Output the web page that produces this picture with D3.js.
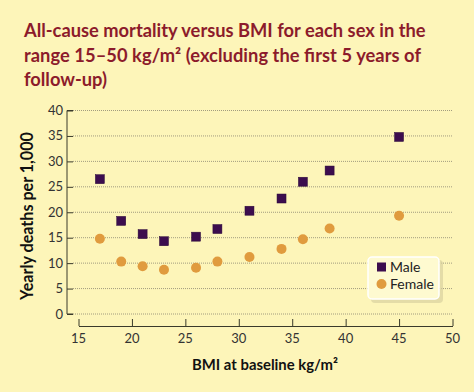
<!DOCTYPE html>
<html><head><meta charset="utf-8">
<script src="https://cdn.jsdelivr.net/npm/d3@7"></script>
<style>
html,body{margin:0;padding:0;background:#fdf5b9;}
svg{display:block;font-family:"Lato","Open Sans",sans-serif;}
</style></head>
<body><svg id="c" width="474" height="392"></svg>
<script>
const bmi = [17, 19, 21, 23, 26, 28, 31, 34, 36, 38.5, 45];
const male = [26.5, 18.3, 15.7, 14.3, 15.2, 16.7, 20.3, 22.7, 26.0, 28.2, 34.8];
const female = [14.8, 10.3, 9.4, 8.7, 9.1, 10.3, 11.2, 12.8, 14.7, 16.8, 19.3];
const xTicks = [15, 20, 25, 30, 35, 40, 45, 50];
const yTicks = [0, 5, 10, 15, 20, 25, 30, 35, 40];
const titleLines = ["All-cause mortality versus BMI for each sex in the",
  "range 15\u201350 kg/m\u00b2 (excluding the first 5 years of", "follow-up)"];
const seriesNames = ["Male", "Female"];

const svg = d3.select("#c");
const x = d3.scaleLinear().domain([15, 50]).range([78.5, 452.5]);
const y = d3.scaleLinear().domain([0, 40]).range([314, 110.5]);
const titleCol = "#8c1b2b", maleCol = "#3c0d4e", femCol = "#e09b3e", axCol = "#3a3a2a";

function fit(sel, target) {
  const fs = +sel.attr("font-size");
  const w = sel.node().getComputedTextLength();
  sel.attr("font-size", fs * target / w);
  return fs * target / w;
}

svg.append("rect").attr("width", 474).attr("height", 392).attr("fill", "#fdf5b9");

// title
const tg = svg.append("g").attr("font-weight", 700).attr("fill", titleCol);
const tl = titleLines.map((t, i) => tg.append("text").attr("x", 24).attr("y", 37 + i * 24.5).attr("font-size", 19).text(t));
const tfs = fit(tl[0], 402);
tl.forEach(s => s.attr("font-size", tfs));
tl[1].attr("textLength", 397).attr("lengthAdjust", "spacing");

// gridlines
svg.append("g").selectAll("line").data(yTicks).join("line")
  .attr("x1", 73).attr("x2", 452).attr("y1", d => y(d)).attr("y2", d => y(d))
  .attr("stroke", "#8a8570").attr("stroke-width", 0.8).attr("stroke-dasharray", "1,1");

// y axis
const yAx = svg.append("g").attr("transform", "translate(67,0)")
  .call(d3.axisRight(y).tickValues(yTicks).tickSize(6).tickFormat(""));
yAx.select(".domain").attr("d", `M6,${y(40)}H0V${y(0)}H6`).attr("stroke", axCol);
yAx.selectAll(".tick line").attr("stroke", axCol);
svg.append("g").selectAll("text").data(yTicks).join("text")
  .attr("x", 63).attr("y", d => y(d)).attr("dy", "0.35em").attr("text-anchor", "end")
  .attr("font-size", 13).attr("fill", "#333").text(d => d);

// x axis
const xAx = svg.append("g").attr("transform", "translate(0,326)")
  .call(d3.axisTop(x).tickValues(xTicks).tickSize(7).tickSizeOuter(0).tickFormat(""));
xAx.select(".domain").attr("stroke", axCol);
xAx.selectAll(".tick line").attr("stroke", axCol);
svg.append("g").selectAll("text").data(xTicks).join("text")
  .attr("x", d => x(d)).attr("y", 343).attr("text-anchor", "middle")
  .attr("font-size", 13).attr("fill", "#333").text(d => d);

// axis titles
const xt = svg.append("text").attr("x", 265).attr("y", 370).attr("text-anchor", "middle")
  .attr("font-weight", 700).attr("font-size", 15).attr("fill", "#111").text("BMI at baseline kg/m\u00b2");
fit(xt, 146);
const yt = svg.append("text").attr("transform", "translate(33,216) rotate(-90)").attr("text-anchor", "middle")
  .attr("font-weight", 700).attr("font-size", 15).attr("fill", "#111").text("Yearly deaths per 1,000");
fit(yt, 168);

// points
const pts = bmi.map((b, i) => ({b, m: male[i], f: female[i]}));
svg.append("g").selectAll("circle").data(pts).join("circle")
  .attr("cx", d => x(d.b)).attr("cy", d => y(d.f)).attr("r", 5).attr("fill", femCol);
svg.append("g").selectAll("rect").data(pts).join("rect")
  .attr("x", d => x(d.b) - 4.5).attr("y", d => y(d.m) - 4.5).attr("width", 9).attr("height", 9)
  .attr("fill", maleCol).attr("stroke", "#2a0838").attr("stroke-width", 0.5);

// legend
const lg = svg.append("g").attr("transform", "translate(368,257)");
lg.append("rect").attr("x", 3).attr("y", 3).attr("width", 72).attr("height", 43).attr("rx", 4)
  .attr("fill", "#d9d2a0").attr("opacity", 0.7);
lg.append("rect").attr("width", 71).attr("height", 42).attr("rx", 4)
  .attr("fill", "#fefad0").attr("stroke", "#fff").attr("stroke-width", 1.5);
lg.append("rect").attr("x", 9).attr("y", 5.5).attr("width", 9).attr("height", 9).attr("fill", maleCol);
lg.append("circle").attr("cx", 13.5).attr("cy", 27).attr("r", 5).attr("fill", femCol);
lg.selectAll("text.l").data(seriesNames).join("text").attr("class", "l")
  .attr("x", 22).attr("y", (d, i) => 15 + i * 17).attr("font-size", 14).attr("fill", "#222").text(d => d);
</script></body></html>
